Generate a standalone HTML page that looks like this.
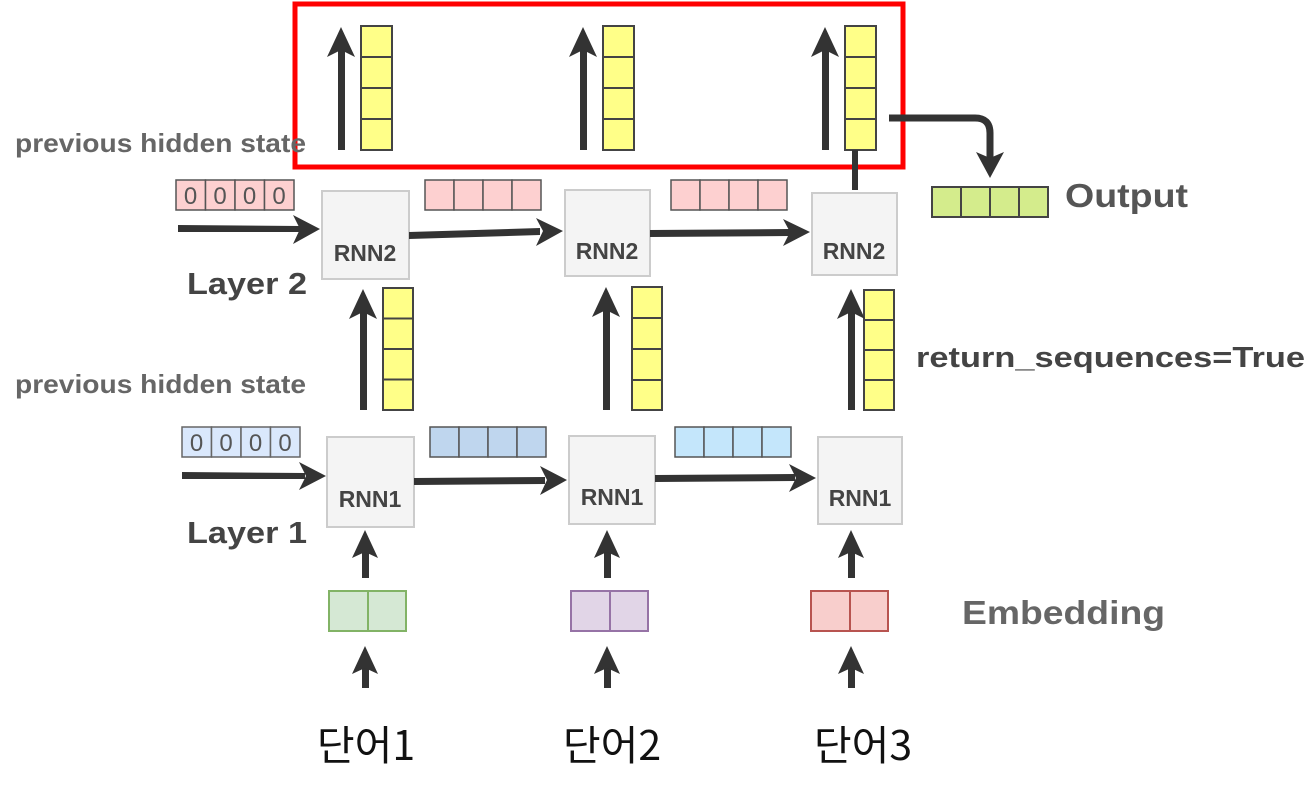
<!DOCTYPE html>
<html><head><meta charset="utf-8"><style>
html,body{margin:0;padding:0;background:#fff;width:1315px;height:798px;overflow:hidden}
svg text{font-family:"Liberation Sans",Arial,sans-serif;font-weight:bold}
</style></head><body>
<svg width="1315" height="798" viewBox="0 0 1315 798" xmlns="http://www.w3.org/2000/svg">
<g fill="#333" stroke="none">
<rect x="338" y="50" width="7" height="100"/><polygon points="341,27 327,57 341,50 355,57"/>
<rect x="580" y="50" width="7" height="100"/><polygon points="583,27 569,57 583,50 597,57"/>
<rect x="822" y="50" width="7" height="100"/><polygon points="825,27 811,57 825,50 839,57"/>
</g>
<g fill="#ffff88" stroke="#444" stroke-width="2">
<rect x="361" y="26" width="31" height="31"/><rect x="361" y="57" width="31" height="31"/><rect x="361" y="88" width="31" height="31"/><rect x="361" y="119" width="31" height="31"/>
<rect x="603" y="26" width="31" height="31"/><rect x="603" y="57" width="31" height="31"/><rect x="603" y="88" width="31" height="31"/><rect x="603" y="119" width="31" height="31"/>
<rect x="845" y="26" width="31" height="31"/><rect x="845" y="57" width="31" height="31"/><rect x="845" y="88" width="31" height="31"/><rect x="845" y="119" width="31" height="31"/>
<rect x="383" y="288" width="30" height="30.5"/><rect x="383" y="318.5" width="30" height="30.5"/><rect x="383" y="349" width="30" height="30.5"/><rect x="383" y="379.5" width="30" height="30.5"/>
<rect x="632" y="287" width="30" height="31"/><rect x="632" y="318" width="30" height="31"/><rect x="632" y="349" width="30" height="31"/><rect x="632" y="380" width="30" height="30"/>
<rect x="864" y="290" width="30" height="30"/><rect x="864" y="320" width="30" height="30"/><rect x="864" y="350" width="30" height="30"/><rect x="864" y="380" width="30" height="30"/>
</g>
<rect x="295" y="4" width="608" height="163" fill="none" stroke="#ff0000" stroke-width="5"/>
<rect x="852" y="150" width="6" height="40" fill="#333"/>
<path d="M889,118 H975 Q990,118 990,133 V160" fill="none" stroke="#333" stroke-width="7"/>
<polygon points="990,178 976,152 990,158 1004,152" fill="#333"/>
<g fill="#d4ec8c" stroke="#444" stroke-width="2">
<rect x="932" y="187" width="29" height="30"/><rect x="961" y="187" width="29" height="30"/><rect x="990" y="187" width="29" height="30"/><rect x="1019" y="187" width="29" height="30"/>
</g>
<text x="1065" y="207" font-size="33" fill="#555" textLength="123" lengthAdjust="spacingAndGlyphs">Output</text>
<text x="15" y="152" font-size="26" fill="#666" textLength="291" lengthAdjust="spacingAndGlyphs">previous hidden state</text>
<text x="15" y="393" font-size="26" fill="#666" textLength="291" lengthAdjust="spacingAndGlyphs">previous hidden state</text>
<g fill="#fdd0d0" stroke="#555" stroke-width="1.5">
<rect x="176" y="180" width="29.5" height="30"/><rect x="205.5" y="180" width="29.5" height="30"/><rect x="235" y="180" width="29.5" height="30"/><rect x="264.5" y="180" width="29.5" height="30"/>
<rect x="425" y="180" width="29" height="30"/><rect x="454" y="180" width="29" height="30"/><rect x="483" y="180" width="29" height="30"/><rect x="512" y="180" width="29" height="30"/>
<rect x="671" y="180" width="29" height="30"/><rect x="700" y="180" width="29" height="30"/><rect x="729" y="180" width="29" height="30"/><rect x="758" y="180" width="29" height="30"/>
</g>
<g fill="#555" font-size="24">
<text x="190.5" y="204" text-anchor="middle" style="font-weight:normal">0</text><text x="220" y="204" text-anchor="middle" style="font-weight:normal">0</text><text x="249.5" y="204" text-anchor="middle" style="font-weight:normal">0</text><text x="279" y="204" text-anchor="middle" style="font-weight:normal">0</text>
</g>
<g fill="#f4f4f4" stroke="#ccc" stroke-width="2">
<rect x="322" y="191" width="87" height="88"/><rect x="565" y="190" width="85" height="86"/><rect x="812" y="193" width="85" height="82"/>
<rect x="327" y="437" width="87" height="90"/><rect x="569" y="436" width="86" height="88"/><rect x="818" y="437" width="84" height="87"/>
</g>
<g fill="#444" font-size="23">
<text x="365" y="261" text-anchor="middle">RNN2</text><text x="607" y="259" text-anchor="middle">RNN2</text><text x="854" y="259" text-anchor="middle">RNN2</text>
<text x="370" y="507" text-anchor="middle">RNN1</text><text x="612" y="505" text-anchor="middle">RNN1</text><text x="860" y="506" text-anchor="middle">RNN1</text>
</g>
<g fill="#333">
<path d="M178,225 L300,226 L300,232 L178,232 Z"/><polygon points="320,229 293,215 300,229 293,244"/>
<path d="M409,232 L540,228 L540,235 L409,239 Z"/><polygon points="563,231 536,218 543,231 536,246"/>
<path d="M650,230 L790,229 L790,236 L650,237 Z"/><polygon points="810,232 783,219 790,232 783,246"/>
<path d="M182,472 L305,473 L305,479 L182,479 Z"/><polygon points="326,476 299,462 306,476 299,490"/>
<path d="M414,478 L545,477 L545,484 L414,485 Z"/><polygon points="567,480 540,466 547,480 540,495"/>
<path d="M655,475 L795,474 L795,481 L655,482 Z"/><polygon points="816,478 789,464 796,478 789,492"/>
<rect x="360" y="312" width="7" height="98"/><polygon points="363,289 349,319 363,312 377,319"/>
<rect x="603" y="310" width="7" height="100"/><polygon points="606,287 592,317 606,310 620,317"/>
<rect x="848" y="312" width="7" height="98"/><polygon points="851,289 837,319 851,312 865,319"/>
<rect x="362" y="548" width="7" height="30"/><polygon points="365,530 352,558 365,552 378,558"/>
<rect x="604" y="548" width="7" height="30"/><polygon points="607,530 594,558 607,552 620,558"/>
<rect x="848" y="548" width="7" height="30"/><polygon points="851,530 838,558 851,552 864,558"/>
<rect x="362" y="665" width="7" height="23"/><polygon points="365,646 352,674 365,668 378,674"/>
<rect x="604" y="665" width="7" height="23"/><polygon points="607,646 594,674 607,668 620,674"/>
<rect x="848" y="665" width="7" height="23"/><polygon points="851,646 838,674 851,668 864,674"/>
</g>
<text x="187" y="294" font-size="31" fill="#444" textLength="120" lengthAdjust="spacingAndGlyphs">Layer 2</text>
<text x="187" y="543" font-size="31" fill="#444" textLength="120" lengthAdjust="spacingAndGlyphs">Layer 1</text>
<text x="916" y="367" font-size="29" fill="#444" textLength="389" lengthAdjust="spacingAndGlyphs">return_sequences=True</text>
<g fill="#dae8fc" stroke="#666" stroke-width="1.5">
<rect x="182" y="427" width="29.5" height="30"/><rect x="211.5" y="427" width="29.5" height="30"/><rect x="241" y="427" width="29.5" height="30"/><rect x="270.5" y="427" width="29.5" height="30"/>
</g>
<g fill="#555" font-size="24">
<text x="196.5" y="451" text-anchor="middle" style="font-weight:normal">0</text><text x="226" y="451" text-anchor="middle" style="font-weight:normal">0</text><text x="255.5" y="451" text-anchor="middle" style="font-weight:normal">0</text><text x="285" y="451" text-anchor="middle" style="font-weight:normal">0</text>
</g>
<g fill="#bfd6ee" stroke="#555" stroke-width="1.5">
<rect x="430" y="427" width="29" height="30"/><rect x="459" y="427" width="29" height="30"/><rect x="488" y="427" width="29" height="30"/><rect x="517" y="427" width="29" height="30"/>
</g>
<g fill="#c4e6fb" stroke="#555" stroke-width="1.5">
<rect x="675" y="427" width="29" height="30"/><rect x="704" y="427" width="29" height="30"/><rect x="733" y="427" width="29" height="30"/><rect x="762" y="427" width="29" height="30"/>
</g>
<g fill="#d5e8d4" stroke="#82b366" stroke-width="2"><rect x="329" y="591" width="39" height="40"/><rect x="368" y="591" width="38" height="40"/></g>
<g fill="#e1d5e7" stroke="#9673a6" stroke-width="2"><rect x="571" y="591" width="39" height="40"/><rect x="610" y="591" width="38" height="40"/></g>
<g fill="#f8cecc" stroke="#b85450" stroke-width="2"><rect x="811" y="591" width="39" height="40"/><rect x="850" y="591" width="38" height="40"/></g>
<text x="962" y="624" font-size="33" fill="#666" textLength="203" lengthAdjust="spacingAndGlyphs">Embedding</text>
<g font-size="41" fill="#111">
<text x="366" y="760" text-anchor="middle" style="font-family:'Noto Sans CJK KR',sans-serif;font-weight:normal">단어1</text>
<text x="612" y="760" text-anchor="middle" style="font-family:'Noto Sans CJK KR',sans-serif;font-weight:normal">단어2</text>
<text x="863" y="760" text-anchor="middle" style="font-family:'Noto Sans CJK KR',sans-serif;font-weight:normal">단어3</text>
</g>
</svg>
</body></html>
